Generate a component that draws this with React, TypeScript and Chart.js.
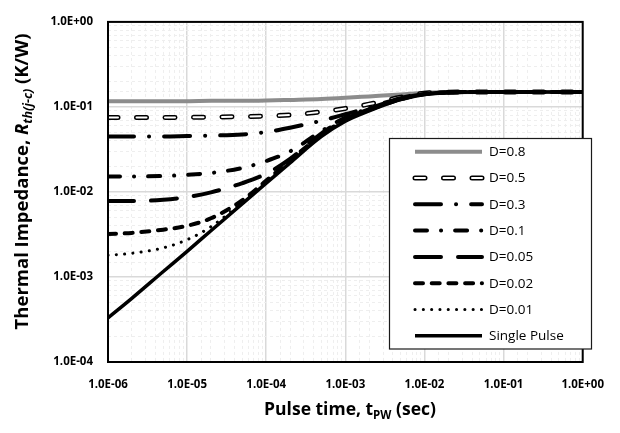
import React, { useEffect, useRef } from 'react';
import { Chart, registerables } from 'chart.js';

Chart.register(...registerables);

// ---------------- data ----------------
const PULSE_TIMES = [1e-6, 2e-6, 5e-6, 1e-5, 2e-5, 5e-5, 1e-4, 2e-4, 5e-4, 1e-3, 2e-3, 5e-3, 1e-2, 2e-2, 5e-2, 1e-1, 1];

const Z_D08 = [0.117, 0.117, 0.117, 0.117, 0.118, 0.118, 0.119, 0.121, 0.124, 0.128, 0.133, 0.140, 0.147, 0.149, 0.150, 0.150, 0.150];
const Z_D05 = [0.075, 0.075, 0.075, 0.0755, 0.076, 0.077, 0.078, 0.0805, 0.0877, 0.096, 0.108, 0.130, 0.145, 0.149, 0.150, 0.150, 0.150];
const Z_D03 = [0.045, 0.045, 0.045, 0.0455, 0.046, 0.0475, 0.0507, 0.057, 0.069, 0.082, 0.098, 0.127, 0.143, 0.149, 0.150, 0.150, 0.150];
const Z_D01 = [0.0152, 0.0152, 0.0154, 0.0159, 0.0167, 0.0192, 0.0231, 0.030, 0.052, 0.075, 0.096, 0.125, 0.142, 0.148, 0.150, 0.150, 0.150];
const Z_D005 = [0.0078, 0.0078, 0.0081, 0.0087, 0.0099, 0.0127, 0.0164, 0.0245, 0.049, 0.072, 0.094, 0.124, 0.141, 0.148, 0.150, 0.150, 0.150];
const Z_D002 = [0.0032, 0.0033, 0.0036, 0.0040, 0.0049, 0.0080, 0.0136, 0.0235, 0.047, 0.070, 0.092, 0.123, 0.141, 0.148, 0.150, 0.150, 0.150];
const Z_D001 = [0.0018, 0.0019, 0.0022, 0.00274, 0.0039, 0.0076, 0.0131, 0.0226, 0.046, 0.069, 0.091, 0.122, 0.140, 0.148, 0.150, 0.150, 0.150];
const Z_SINGLE = [0.00033, 0.00056, 0.00116, 0.0020, 0.0035, 0.0073, 0.0127, 0.022, 0.045, 0.068, 0.090, 0.122, 0.140, 0.148, 0.150, 0.150, 0.150];

const SERIES_LABELS = ['D=0.8', 'D=0.5', 'D=0.3', 'D=0.1', 'D=0.05', 'D=0.02', 'D=0.01', 'Single Pulse'];
const SERIES_VALUES = [Z_D08, Z_D05, Z_D03, Z_D01, Z_D005, Z_D002, Z_D001, Z_SINGLE];

const X_TICK_LABELS = ['1.0E-06', '1.0E-05', '1.0E-04', '1.0E-03', '1.0E-02', '1.0E-01', '1.0E+00'];
const Y_TICK_LABELS = ['1.0E-04', '1.0E-03', '1.0E-02', '1.0E-01', '1.0E+00'];

const X_TITLE = ['Pulse time, t', 'PW', ' (sec)'];
const Y_TITLE = ['Thermal Impedance, ', 'R', 'th(j-c)', ' (K/W)'];

// ---------------- styles ----------------
type Layer = { color: string; width: number; dash: number[]; cap: CanvasLineCap };
// layers listed bottom -> top
const SERIES_STYLES: Layer[][] = [
  [{ color: '#8c8c8c', width: 4, dash: [], cap: 'butt' }],
  [
    { color: '#000000', width: 5, dash: [10, 18.5], cap: 'round' },
    { color: '#ffffff', width: 2, dash: [10, 18.5], cap: 'round' },
  ],
  [{ color: '#000000', width: 4, dash: [26, 15, 0.1, 15], cap: 'round' }],
  [{ color: '#000000', width: 4, dash: [12, 14, 0.1, 14], cap: 'round' }],
  [{ color: '#000000', width: 4, dash: [26, 17], cap: 'round' }],
  [{ color: '#000000', width: 4, dash: [8, 8.7], cap: 'round' }],
  [{ color: '#000000', width: 3, dash: [0.1, 8.2], cap: 'round' }],
  [{ color: '#000000', width: 3.5, dash: [], cap: 'butt' }],
];

const FONT = '"Open Sans", "Liberation Sans", "DejaVu Sans", sans-serif';

const isDecade = (v: number) => Math.abs(Math.log10(v) - Math.round(Math.log10(v))) < 1e-6;

const decorPlugin = {
  id: 'decor',
  afterDatasetsDraw(chart: any) {
    const { ctx, chartArea: a } = chart;
    ctx.save();
    // plot frame
    ctx.strokeStyle = '#000';
    ctx.lineWidth = 2;
    ctx.setLineDash([]);
    ctx.strokeRect(a.left, a.top, a.right - a.left, a.bottom - a.top);

    // legend box
    const bx = 389.5, by = 138.5, bw = 202, bh = 210.5;
    ctx.fillStyle = '#ffffff';
    ctx.fillRect(bx, by, bw, bh);
    ctx.strokeStyle = '#1a1a1a';
    ctx.lineWidth = 1.2;
    ctx.strokeRect(bx, by, bw, bh);

    const rowY0 = 151.7, rowStep = 26.3;
    SERIES_LABELS.forEach((label, i) => {
      const y = rowY0 + i * rowStep;
      SERIES_STYLES[i].forEach((l) => {
        ctx.beginPath();
        ctx.strokeStyle = l.color;
        ctx.lineWidth = l.width;
        ctx.lineCap = l.cap;
        ctx.setLineDash(l.dash);
        ctx.moveTo(415, y);
        ctx.lineTo(482, y);
        ctx.stroke();
      });
      ctx.setLineDash([]);
      ctx.fillStyle = '#000';
      ctx.font = `13.5px ${FONT}`;
      ctx.textAlign = 'left';
      ctx.textBaseline = 'middle';
      ctx.fillText(label, 489, y + 0.5);
    });
    ctx.restore();
  },
  afterDraw(chart: any) {
    const { ctx } = chart;
    ctx.save();
    ctx.fillStyle = '#000';
    ctx.textBaseline = 'alphabetic';
    ctx.textAlign = 'left';

    // x title
    const xParts = [
      { t: X_TITLE[0], f: `bold 17.5px ${FONT}`, dy: 0 },
      { t: X_TITLE[1], f: `bold 11.5px ${FONT}`, dy: 4 },
      { t: X_TITLE[2], f: `bold 17.5px ${FONT}`, dy: 0 },
    ];
    let total = 0;
    xParts.forEach((p) => { ctx.font = p.f; total += ctx.measureText(p.t).width; });
    let x = 350 - total / 2;
    xParts.forEach((p) => { ctx.font = p.f; ctx.fillText(p.t, x, 415 + p.dy); x += ctx.measureText(p.t).width; });

    // y title (rotated)
    const yParts = [
      { t: Y_TITLE[0], f: `bold 18.5px ${FONT}`, dy: 0 },
      { t: Y_TITLE[1], f: `italic bold 18.5px ${FONT}`, dy: 0 },
      { t: Y_TITLE[2], f: `italic bold 12.5px ${FONT}`, dy: 4 },
      { t: Y_TITLE[3], f: `bold 18.5px ${FONT}`, dy: 0 },
    ];
    total = 0;
    yParts.forEach((p) => { ctx.font = p.f; total += ctx.measureText(p.t).width; });
    ctx.translate(28, 181.5);
    ctx.rotate(-Math.PI / 2);
    x = -total / 2;
    yParts.forEach((p) => { ctx.font = p.f; ctx.fillText(p.t, x, p.dy); x += ctx.measureText(p.t).width; });
    ctx.restore();
  },
};

export default function App() {
  const ref = useRef<HTMLCanvasElement | null>(null);

  useEffect(() => {
    if (!ref.current) return;

    const datasets: any[] = [];
    // build top-most first (Chart.js draws index 0 on top)
    for (let s = SERIES_LABELS.length - 1; s >= 0; s--) {
      const layers = SERIES_STYLES[s];
      for (let k = layers.length - 1; k >= 0; k--) {
        const l = layers[k];
        datasets.push({
          label: SERIES_LABELS[s],
          data: PULSE_TIMES.map((t, i) => ({ x: t, y: SERIES_VALUES[s][i] })),
          borderColor: l.color,
          borderWidth: l.width,
          borderDash: l.dash,
          borderCapStyle: l.cap,
          borderJoinStyle: 'round',
          pointRadius: 0,
          pointHoverRadius: 0,
          fill: false,
          cubicInterpolationMode: 'monotone',
        });
      }
    }

    const gridColor = (ctx: any) => (ctx.tick && isDecade(ctx.tick.value) ? '#d9d9d9' : '#eeeeee');
    const gridWidth = (ctx: any) => (ctx.tick && isDecade(ctx.tick.value) ? 1.5 : 1);
    const gridDash = (ctx: any) => (ctx.tick && isDecade(ctx.tick.value) ? [] : [3, 3]);

    const chart = new Chart(ref.current, {
      type: 'line',
      data: { datasets },
      plugins: [decorPlugin],
      options: {
        animation: false,
        responsive: false,
        events: [],
        layout: { padding: { top: 10, right: 27, left: 0, bottom: 0 } },
        plugins: { legend: { display: false }, tooltip: { enabled: false }, title: { display: false } },
        scales: {
          x: {
            type: 'logarithmic',
            min: 1e-6,
            max: 1,
            afterFit: (s: any) => { s.height = 71; },
            grid: { color: gridColor, lineWidth: gridWidth, drawTicks: false },
            border: { display: false, dash: gridDash },
            ticks: {
              autoSkip: false,
              maxRotation: 0,
              padding: 16,
              color: '#000',
              font: { family: FONT, weight: 'bold', size: 11.5 },
              callback: (v: any) => {
                const n = Number(v);
                return isDecade(n) ? X_TICK_LABELS[Math.round(Math.log10(n)) + 6] : '';
              },
            },
          },
          y: {
            type: 'logarithmic',
            min: 1e-4,
            max: 1,
            afterFit: (s: any) => { s.width = 108; },
            grid: { color: gridColor, lineWidth: gridWidth, drawTicks: false },
            border: { display: false, dash: gridDash },
            ticks: {
              autoSkip: false,
              padding: 15,
              color: '#000',
              font: { family: FONT, weight: 'bold', size: 11.5 },
              callback: (v: any) => {
                const n = Number(v);
                return isDecade(n) ? Y_TICK_LABELS[Math.round(Math.log10(n)) + 4] : '';
              },
            },
          },
        },
      } as any,
    });

    return () => chart.destroy();
  }, []);

  return (
    <canvas
      ref={ref}
      width={620}
      height={433}
      style={{ position: 'absolute', left: 0, top: 0, width: 620, height: 433, background: '#fff' }}
    />
  );
}
